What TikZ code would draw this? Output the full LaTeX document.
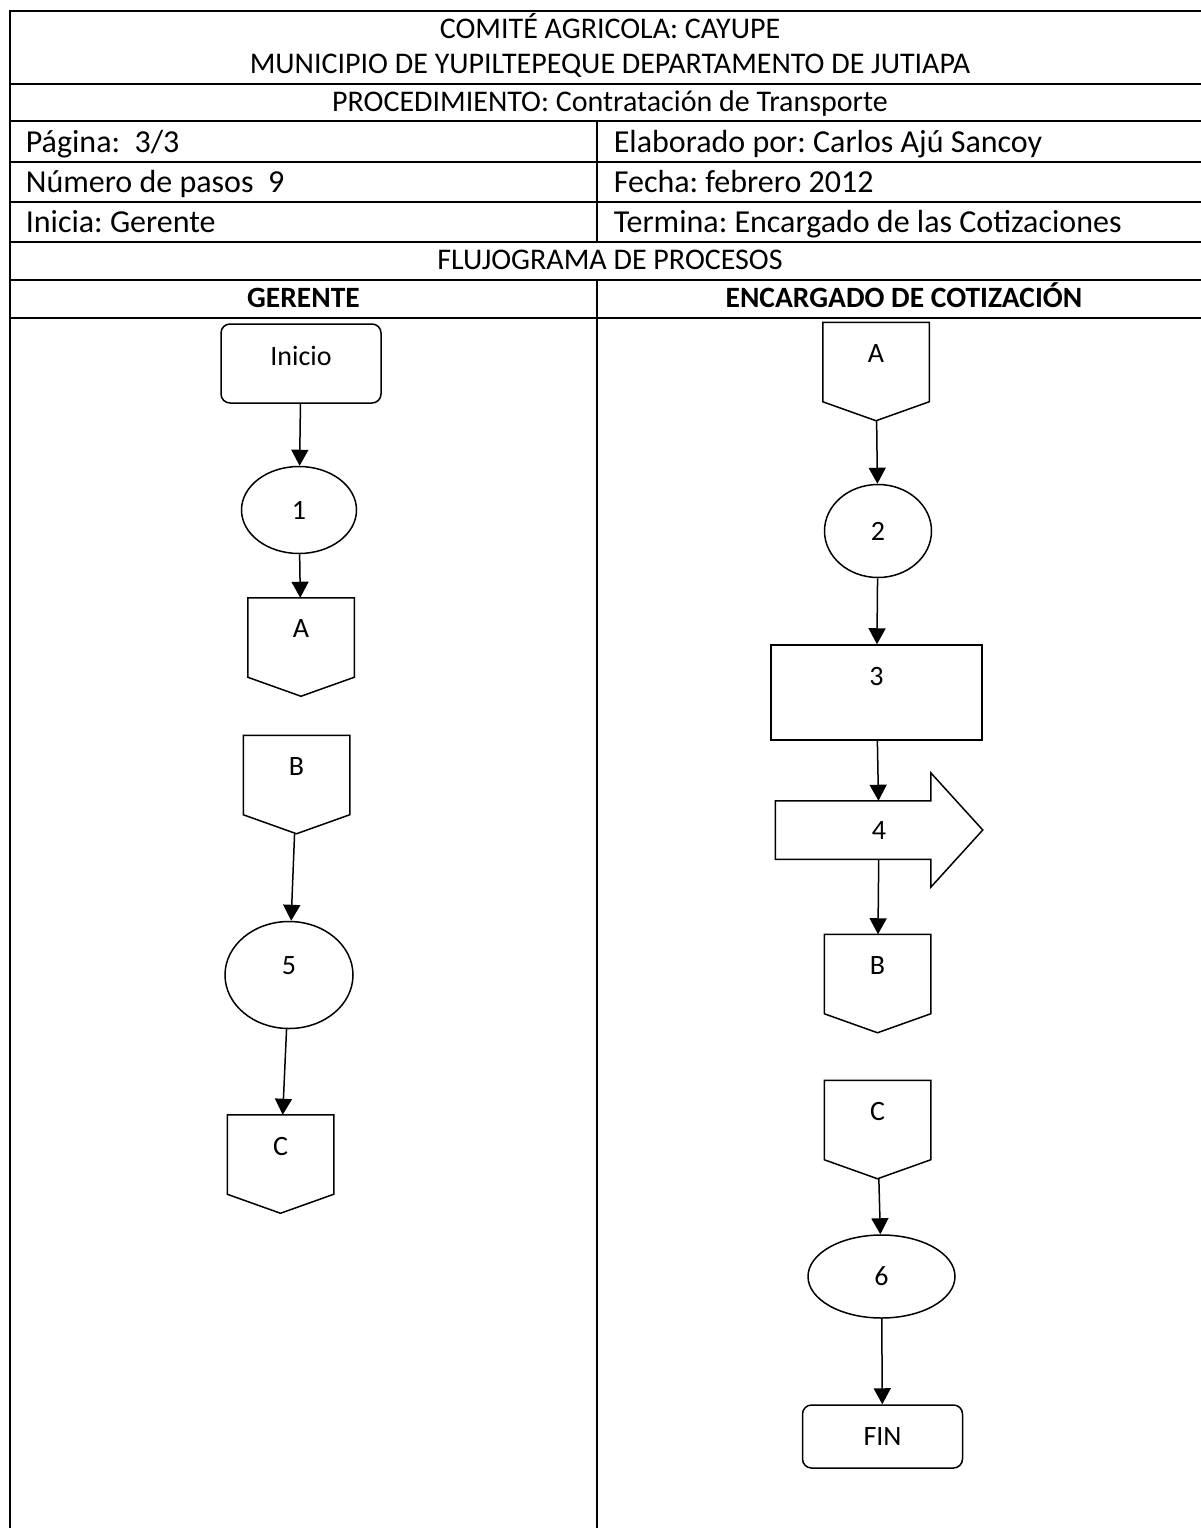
\documentclass[tikz,border=0pt]{standalone}
\usepackage{fontspec}
\setmainfont{Carlito}
\frenchspacing
\usetikzlibrary{arrows.meta,shapes.geometric}

\tikzset{
    celda/.style={anchor=base west, inner sep=0pt, font=\fontsize{32}{36}\selectfont},
    titulo/.style={anchor=base, inner sep=0pt, font=\fontsize{30}{34}\selectfont},
    carril/.style={anchor=base, inner sep=0pt, font=\bfseries\fontsize{29.5}{34}\selectfont},
    flujo/.style={font=\fontsize{28}{32}\selectfont, line width=1.5pt, inner sep=0pt},
    terminal/.style={flujo, draw, rounded corners=9pt, minimum width=160pt},
    paso/.style={flujo, draw, ellipse},
    proceso/.style={flujo, draw, minimum width=211pt, minimum height=95pt, text depth=32pt},
    conector/.style={flujo, minimum width=105pt, minimum height=97pt, text depth=36pt,
        append after command={\pgfextra{\draw[line width=1.5pt]
            (\tikzlastnode.north west) -- (\tikzlastnode.north east)
            -- ([yshift=19pt]\tikzlastnode.south east) -- (\tikzlastnode.south)
            -- ([yshift=19pt]\tikzlastnode.south west) -- cycle;}}},
    envio/.style={flujo, minimum width=206pt, minimum height=57pt,
        append after command={\pgfextra{\draw[line width=1.5pt]
            (\tikzlastnode.north west) -- ([xshift=-52pt]\tikzlastnode.north east)
            -- ([xshift=-52pt,yshift=28pt]\tikzlastnode.north east) -- (\tikzlastnode.east)
            -- ([xshift=-52pt,yshift=-28pt]\tikzlastnode.south east)
            -- ([xshift=-52pt]\tikzlastnode.south east) -- (\tikzlastnode.south west) -- cycle;}}},
}

\begin{document}
\begin{tikzpicture}[x=1pt, y=-1pt, line width=1.7pt, >={Triangle[length=16pt,width=17pt]}]
    \useasboundingbox (0,0) rectangle (1200,1528);

    \draw (10,1528) -- (10,11) -- (1211,11);
    \draw (10,84) -- (1211,84);
    \draw (10,121) -- (1211,121);
    \draw (10,162) -- (1211,162);
    \draw (10,202) -- (1211,202);
    \draw (10,242) -- (1211,242);
    \draw (10,280) -- (1211,280);
    \draw (10,318) -- (1211,318);
    \draw (597,121) -- (597,242);
    \draw (597,280) -- (597,1528);

    \node[titulo] (Comite)        at (610,39)  {COMITÉ AGRICOLA: CAYUPE};
    \node[titulo] (Municipio)     at (610,74)  {MUNICIPIO DE YUPILTEPEQUE DEPARTAMENTO DE JUTIAPA};
    \node[titulo] (Procedimiento) at (610,111) {PROCEDIMIENTO: Contratación de Transporte};
    \node[celda]  (Pagina)    at (25,152)  {Página:\ \ 3/3};
    \node[celda]  (Elaborado) at (613,152) {Elaborado por: Carlos Ajú Sancoy};
    \node[celda]  (Pasos)     at (25,192)  {Número de pasos\ \ 9};
    \node[celda]  (Fecha)     at (613,192) {Fecha: febrero 2012};
    \node[celda]  (Inicia)    at (25,232)  {Inicia: Gerente};
    \node[celda]  (Termina)   at (613,232) {Termina: Encargado de las Cotizaciones};
    \node[titulo] (Flujograma) at (610,269) {FLUJOGRAMA DE PROCESOS};
    \node[carril] (Gerente)    at (303.5,307) {GERENTE};
    \node[carril] (Encargado)  at (904,307)   {ENCARGADO DE COTIZACIÓN};

    \node[terminal, minimum height=79pt, text depth=15pt] (Inicio) at (301,363.5) {Inicio};
    \node[paso, minimum width=115pt, minimum height=87pt] (Uno)   at (299,510) {1};
    \node[conector] (A1) at (301,647) {A};
    \node[conector] (B1) at (296.5,784.5) {B};
    \node[paso, minimum width=128pt, minimum height=107pt, text depth=18pt] (Cinco) at (289,975) {5};
    \node[conector] (C1) at (280.5,1164) {C};

    \node[conector] (A2) at (876,371.5) {A};
    \node[paso, minimum width=107pt, minimum height=93pt] (Dos) at (878,531) {2};
    \node[proceso] (Tres) at (876.5,692.5) {3};
    \node[envio] (Cuatro) at (879,830) {4};
    \node[conector] (B2) at (877.5,983.5) {B};
    \node[conector] (C2) at (877.5,1129.5) {C};
    \node[paso, minimum width=147pt, minimum height=83pt] (Seis) at (881.5,1276.5) {6};
    \node[terminal, minimum height=63pt] (Fin) at (882.5,1436.5) {FIN};

    \draw[->, line width=1.5pt] (Inicio) -- (Uno);
    \draw[->, line width=1.5pt] (Uno) -- (A1);
    \draw[->, line width=1.5pt] (B1) -- (Cinco);
    \draw[->, line width=1.5pt] (Cinco) -- (C1);

    \draw[->, line width=1.5pt] (A2) -- (Dos);
    \draw[->, line width=1.5pt] (Dos) -- (Tres);
    \draw[->, line width=1.5pt] (Tres) -- (Cuatro);
    \draw[->, line width=1.5pt] (Cuatro) -- (B2);
    \draw[->, line width=1.5pt] (C2) -- (Seis);
    \draw[->, line width=1.5pt] (Seis) -- (Fin);
\end{tikzpicture}
\end{document}
